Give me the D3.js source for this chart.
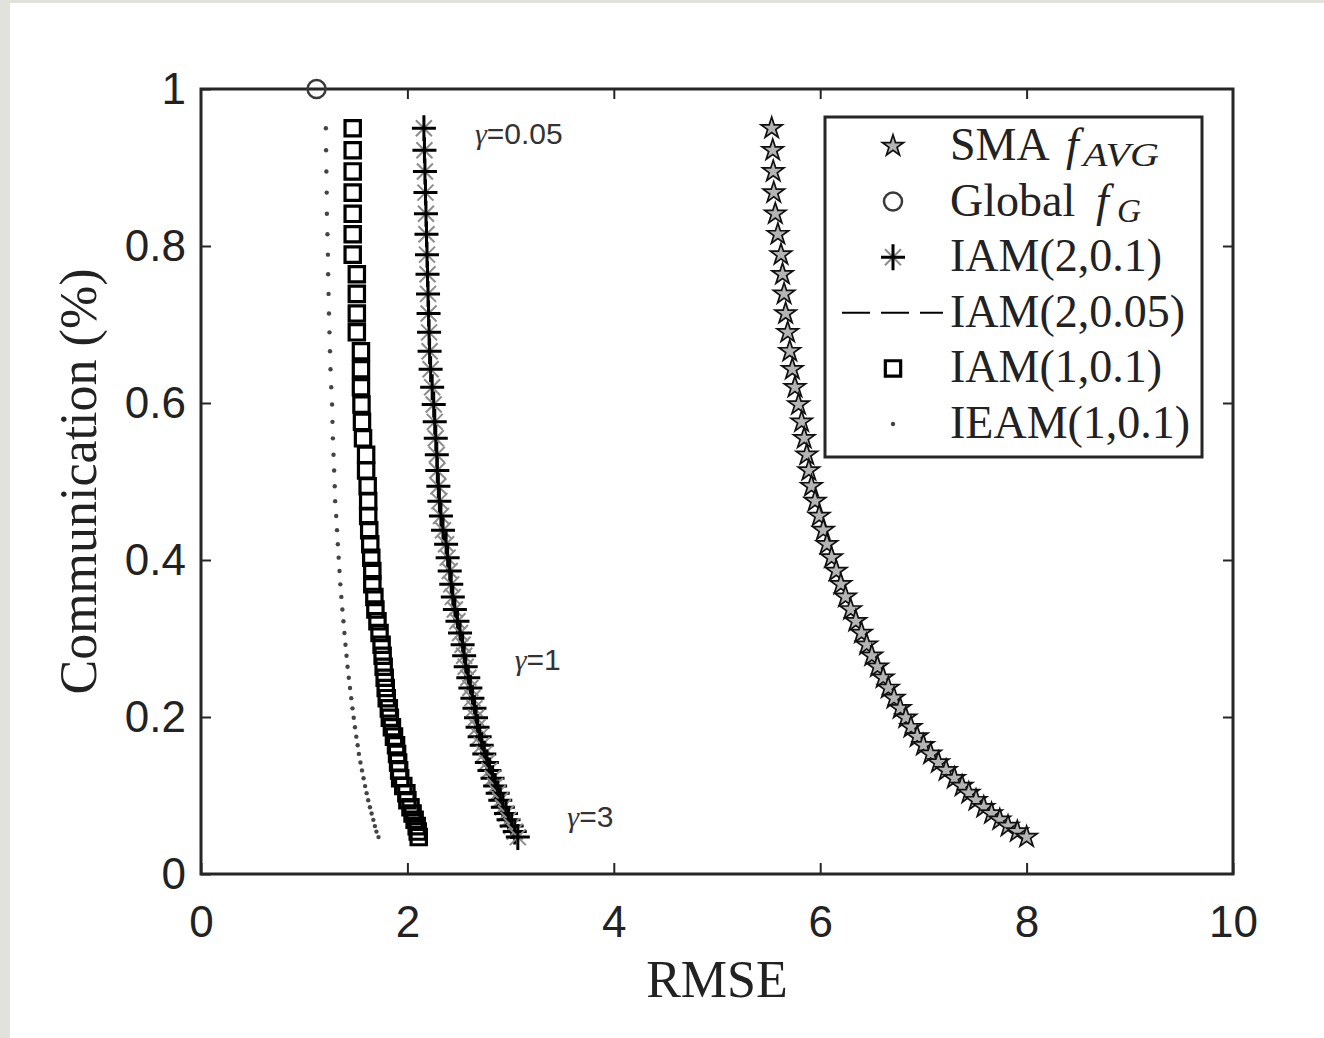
<!DOCTYPE html>
<html>
<head>
<meta charset="utf-8">
<script src="https://cdn.jsdelivr.net/npm/d3@7"></script>
<style>
body { margin: 0; background: #fff; }
</style>
</head>
<body>
<div id="chart"></div>
<script>
// ----------------------------------------------
// Data
// ----------------------------------------------
// communication share, one value per gamma step (shared by all curves)
var communication = [0.950, 0.922, 0.895, 0.868, 0.841, 0.815, 0.789, 0.764, 0.739, 0.714,
    0.690, 0.666, 0.643, 0.620, 0.598, 0.576, 0.555, 0.534, 0.514, 0.494,
    0.475, 0.456, 0.438, 0.420, 0.403, 0.386, 0.369, 0.353, 0.337, 0.322,
    0.307, 0.292, 0.278, 0.264, 0.250, 0.237, 0.224, 0.211, 0.199, 0.187,
    0.175, 0.164, 0.153, 0.142, 0.132, 0.122, 0.112, 0.103, 0.094, 0.085,
    0.077, 0.069, 0.061, 0.054, 0.047];

var smaRmse = [5.53, 5.54, 5.545, 5.55, 5.565, 5.59, 5.62, 5.635, 5.65, 5.665,
    5.685, 5.705, 5.73, 5.755, 5.79, 5.82, 5.845, 5.87, 5.89, 5.915,
    5.95, 5.99, 6.03, 6.065, 6.11, 6.155, 6.20, 6.245, 6.295, 6.345,
    6.40, 6.45, 6.50, 6.555, 6.61, 6.66, 6.715, 6.775, 6.83, 6.88,
    6.94, 7.00, 7.07, 7.145, 7.22, 7.30, 7.375, 7.44, 7.51, 7.585,
    7.66, 7.74, 7.82, 7.91, 8.00];

var iam201Rmse = [2.16, 2.165, 2.17, 2.175, 2.18, 2.185, 2.19, 2.195, 2.20, 2.205,
    2.21, 2.215, 2.225, 2.24, 2.255, 2.265, 2.275, 2.285, 2.29, 2.30,
    2.31, 2.325, 2.345, 2.375, 2.39, 2.41, 2.425, 2.44, 2.46, 2.485,
    2.51, 2.535, 2.55, 2.565, 2.59, 2.61, 2.63, 2.65, 2.665, 2.68,
    2.70, 2.72, 2.745, 2.77, 2.795, 2.825, 2.85, 2.875, 2.90, 2.925,
    2.955, 2.98, 3.01, 3.04, 3.07];

// the dashed IAM(2,0.05) curve is not distinguishable from IAM(2,0.1) in the figure
var iam2005Rmse = iam201Rmse;

var iam101Rmse = [1.47, 1.47, 1.47, 1.47, 1.47, 1.47, 1.47, 1.51, 1.51, 1.51,
    1.51, 1.55, 1.55, 1.55, 1.555, 1.56, 1.57, 1.60, 1.60, 1.615,
    1.62, 1.62, 1.63, 1.64, 1.65, 1.66, 1.66, 1.68, 1.69, 1.71,
    1.73, 1.75, 1.76, 1.77, 1.78, 1.79, 1.80, 1.82, 1.83, 1.85,
    1.87, 1.89, 1.90, 1.91, 1.92, 1.93, 1.96, 1.99, 2.00, 2.03,
    2.05, 2.07, 2.09, 2.10, 2.11];

var ieamRmse = [1.21, 1.212, 1.215, 1.218, 1.22, 1.225, 1.23, 1.232, 1.236, 1.24,
    1.245, 1.25, 1.255, 1.262, 1.27, 1.274, 1.278, 1.284, 1.29, 1.296,
    1.30, 1.31, 1.318, 1.326, 1.334, 1.342, 1.35, 1.36, 1.37, 1.38,
    1.39, 1.40, 1.41, 1.42, 1.432, 1.444, 1.456, 1.468, 1.48, 1.492,
    1.505, 1.518, 1.53, 1.545, 1.56, 1.575, 1.59, 1.605, 1.62, 1.637,
    1.653, 1.67, 1.685, 1.70, 1.72];

var globalRmse = [1.12];
var globalComm = [1.0];

var xTicks = [0, 2, 4, 6, 8, 10];
var yTicks = [0, 0.2, 0.4, 0.6, 0.8, 1];

var gammaLabels = ["0.05", "1", "3"];
var gammaRmse = [2.655, 3.04, 3.55];
var gammaComm = [0.93, 0.26, 0.06];

// ----------------------------------------------
// Basic D3 Setup
// ----------------------------------------------
var svgWidth = 1324;
var svgHeight = 1038;

var plot = { left: 201, right: 1233, top: 89, bottom: 874 };
var ink = "#262626";

var svg = d3.select("#chart")
    .append("svg")
    .attr("width", svgWidth)
    .attr("height", svgHeight);

// grey page edge like the scanned figure
svg.append("rect")
    .attr("width", svgWidth)
    .attr("height", svgHeight)
    .attr("fill", "#e2e2dc");
svg.append("rect")
    .attr("x", 10)
    .attr("y", 3)
    .attr("width", svgWidth - 10)
    .attr("height", svgHeight - 3)
    .attr("fill", "#fff");

var xScale = d3.scaleLinear().domain([0, 10]).range([plot.left, plot.right]);
var yScale = d3.scaleLinear().domain([0, 1]).range([plot.bottom, plot.top]);

// ----------------------------------------------
// Axes (ticks point inwards, on all four sides)
// ----------------------------------------------
var xAxis = svg.append("g")
    .attr("transform", `translate(0, ${plot.bottom})`)
    .call(d3.axisBottom(xScale).tickValues(xTicks).tickSize(-11).tickSizeOuter(0).tickPadding(32));
var yAxis = svg.append("g")
    .attr("transform", `translate(${plot.left}, 0)`)
    .call(d3.axisLeft(yScale).tickValues(yTicks).tickSize(-10).tickSizeOuter(0).tickPadding(15)
        .tickFormat(d => d === 0 || d === 1 ? d : d3.format(".1f")(d)));
var topAxis = svg.append("g")
    .attr("transform", `translate(0, ${plot.top})`)
    .call(d3.axisTop(xScale).tickValues(xTicks.slice(1, -1)).tickSize(-10).tickSizeOuter(0).tickFormat(""));
var rightAxis = svg.append("g")
    .attr("transform", `translate(${plot.right}, 0)`)
    .call(d3.axisRight(yScale).tickValues(yTicks.slice(1, -1)).tickSize(-10).tickSizeOuter(0).tickFormat(""));

[xAxis, yAxis, topAxis, rightAxis].forEach(g => {
    g.select(".domain").remove();
    g.selectAll("line").attr("stroke", ink).attr("stroke-width", 2);
    g.selectAll("text")
        .attr("fill", "#222")
        .style("font-family", "'Liberation Sans', Arial, sans-serif")
        .style("font-size", "44px");
});

// frame
svg.append("rect")
    .attr("x", plot.left)
    .attr("y", plot.top)
    .attr("width", plot.right - plot.left)
    .attr("height", plot.bottom - plot.top)
    .attr("fill", "none")
    .attr("stroke", ink)
    .attr("stroke-width", 3);

// axis titles
svg.append("text")
    .attr("x", (plot.left + plot.right) / 2)
    .attr("y", 997)
    .attr("text-anchor", "middle")
    .attr("fill", "#222")
    .style("font-family", "'Liberation Serif', 'Times New Roman', serif")
    .style("font-size", "52px")
    .text("RMSE");
svg.append("text")
    .attr("transform", `translate(96, ${(plot.top + plot.bottom) / 2}) rotate(-90)`)
    .attr("text-anchor", "middle")
    .attr("fill", "#222")
    .style("font-family", "'Liberation Serif', 'Times New Roman', serif")
    .style("font-size", "52px")
    .text("Communication (%)");

// ----------------------------------------------
// Marker shapes
// ----------------------------------------------
var starPath = d3.symbol().type(d3.symbolStar).size(140)();
var squarePath = d3.symbol().type(d3.symbolSquare).size(235)();

function drawStar(sel) {
    sel.append("path").attr("d", starPath)
        .attr("fill", "#b4b4b4").attr("stroke", "#111").attr("stroke-width", 1.7);
}
function drawAsterisk(sel) {
    sel.append("path").attr("d", "M-8,-8L8,8M-8,8L8,-8")
        .attr("stroke", "#8c8c8c").attr("stroke-width", 2);
    sel.append("path").attr("d", "M-12,0H12M0,-13V13")
        .attr("stroke", "#000").attr("stroke-width", 3);
}
function drawSquare(sel) {
    sel.append("path").attr("d", squarePath)
        .attr("fill", "none").attr("stroke", "#000").attr("stroke-width", 3.2);
}
function drawCircle(sel) {
    sel.append("circle").attr("r", 9)
        .attr("fill", "none").attr("stroke", "#3a3a3a").attr("stroke-width", 2.5);
}
function drawDot(sel) {
    sel.append("circle").attr("r", 2.2).attr("fill", "#444");
}

function pointsOf(xs, ys) {
    return xs.map((v, i) => ({ x: v, y: ys[i] }));
}

function plotMarkers(cls, xs, ys, draw) {
    svg.append("g").attr("class", cls)
        .selectAll("g")
        .data(pointsOf(xs, ys))
        .enter()
        .append("g")
        .attr("transform", d => `translate(${xScale(d.x)}, ${yScale(d.y)})`)
        .call(draw);
}

// ----------------------------------------------
// Series
// ----------------------------------------------
plotMarkers("ieam", ieamRmse, communication, drawDot);
plotMarkers("iam101", iam101Rmse, communication, drawSquare);

var line = d3.line().x(d => xScale(d.x)).y(d => yScale(d.y));
svg.append("path")
    .datum(pointsOf(iam2005Rmse, communication))
    .attr("d", line)
    .attr("fill", "none")
    .attr("stroke", "#000")
    .attr("stroke-width", 2)
    .attr("stroke-dasharray", "28,11");

plotMarkers("iam201", iam201Rmse, communication, drawAsterisk);
plotMarkers("sma", smaRmse, communication, drawStar);
plotMarkers("global", globalRmse, globalComm, drawCircle);

// gamma annotations
gammaLabels.forEach((lab, i) => {
    var t = svg.append("text")
        .attr("x", xScale(gammaRmse[i]))
        .attr("y", yScale(gammaComm[i]))
        .attr("fill", "#333")
        .style("font-size", "30px");
    t.append("tspan")
        .style("font-family", "'Liberation Serif', serif")
        .style("font-style", "italic")
        .text("\u03b3");
    t.append("tspan")
        .style("font-family", "'Liberation Sans', Arial, sans-serif")
        .text("=" + lab);
});

// ----------------------------------------------
// Legend
// ----------------------------------------------
var legendRows = [
    { draw: drawStar, name: "SMA", sub: "AVG" },
    { draw: drawCircle, name: "Global", sub: "G" },
    { draw: drawAsterisk, name: "IAM(2,0.1)" },
    { draw: null, name: "IAM(2,0.05)" },
    { draw: drawSquare, name: "IAM(1,0.1)" },
    { draw: drawDot, name: "IEAM(1,0.1)" }
];

var legend = svg.append("g");
legend.append("rect")
    .attr("x", 825)
    .attr("y", 117)
    .attr("width", 377)
    .attr("height", 340)
    .attr("fill", "#fff")
    .attr("stroke", ink)
    .attr("stroke-width", 3);

legendRows.forEach((row, i) => {
    var cy = 146 + i * 55.6;
    var mark = legend.append("g").attr("transform", `translate(893, ${cy})`);
    if (row.draw) {
        row.draw(mark);
    } else {
        mark.append("line")
            .attr("x1", -51).attr("x2", 50)
            .attr("stroke", "#000").attr("stroke-width", 2)
            .attr("stroke-dasharray", "28,11");
    }
    var t = legend.append("text")
        .attr("x", 950)
        .attr("y", cy + 14)
        .attr("fill", "#222")
        .style("font-family", "'Liberation Serif', 'Times New Roman', serif")
        .style("font-size", "46px");
    t.append("tspan").text(row.name);
    if (row.sub) {
        t.append("tspan")
            .attr("x", row.sub === "AVG" ? 1066 : 1096)
            .style("font-style", "italic")
            .text("f");
        t.append("tspan")
            .attr("x", row.sub === "AVG" ? 1083 : 1117)
            .attr("dy", 6)
            .style("font-style", "italic")
            .style("font-size", "33px")
            .attr("textLength", row.sub === "AVG" ? 76 : 24)
            .attr("lengthAdjust", "spacingAndGlyphs")
            .text(row.sub);
    }
});
</script>
</body>
</html>
